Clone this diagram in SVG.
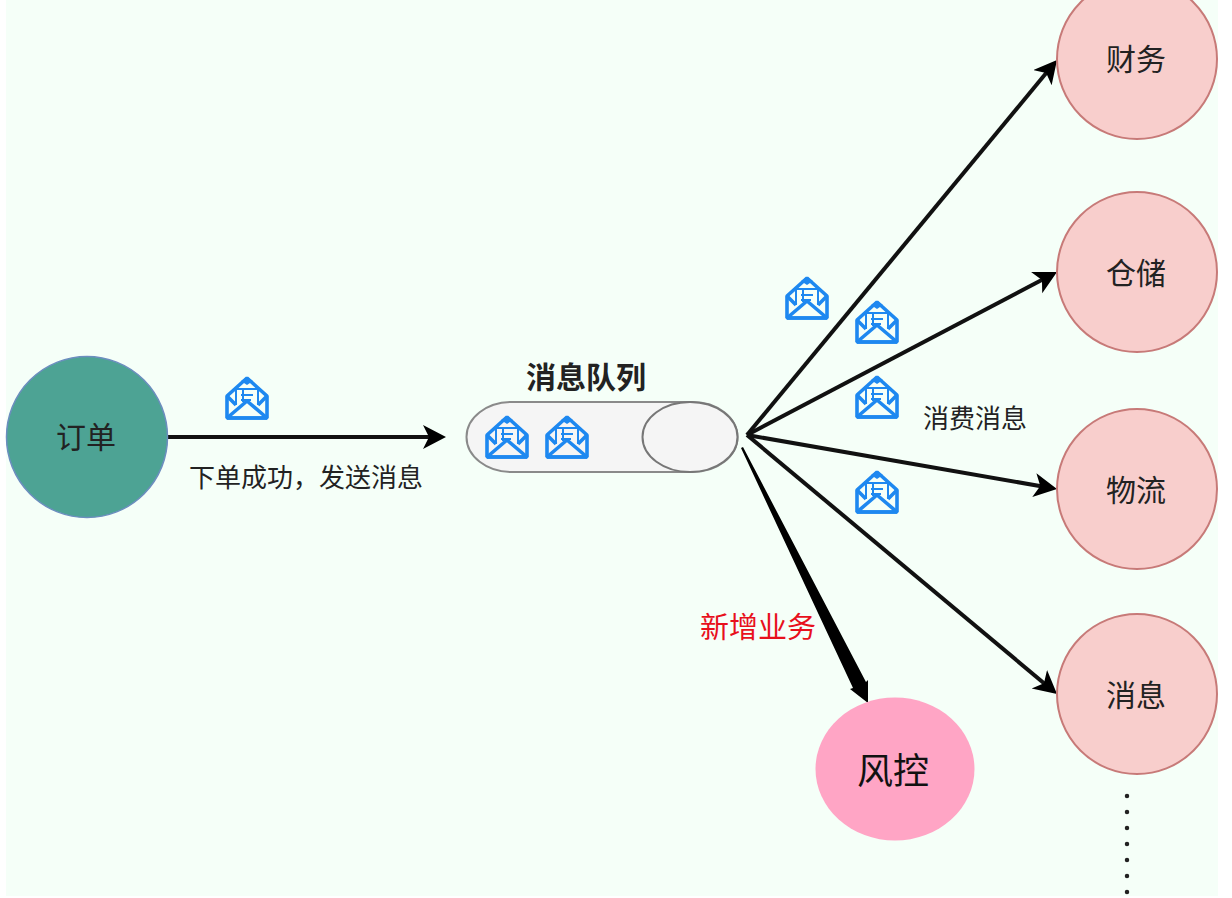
<svg xmlns="http://www.w3.org/2000/svg" width="1232" height="898" viewBox="0 0 1232 898">
<style>
.t{font-family:"Noto Sans CJK SC","Liberation Sans",sans-serif;fill:#222;text-anchor:middle}
.c{stroke:#111;stroke-width:4;fill:none;marker-end:url(#a)}
.r{fill:#f8cecc;stroke:#c77a78;stroke-width:2}
.e{fill:none;stroke:#1e88f0;stroke-width:3.6;stroke-linejoin:bevel}
.d{fill:none;stroke:#1e88f0;stroke-width:2}
</style>
<defs>
<marker id="a" markerUnits="userSpaceOnUse" markerWidth="26" markerHeight="26" refX="17" refY="12" orient="auto">
<path d="M0 0L23 12L0 24L6 12Z" fill="#000"/>
</marker>
<symbol id="m" viewBox="0 0 46 46" width="46" height="46" overflow="visible">
<path class="e" d="M3 21L23 3L43 21V43H3Z"/>
<path fill="#fff" class="e" d="M3 43L23 26L43 43Z"/>
<path class="e" d="M3 21L12 30M43 21L34 30"/>
<path class="d" d="M12 14V30M34 14V30M12 14H34M17 20H29M17 25H27M19 14V27"/>
<path d="M17 6L23 2L29 6L23 10Z" fill="#1e88f0"/>
</symbol>
</defs>
<rect x="6" y="0" width="1212" height="896" fill="#f5fff8"/>
<g id="connectors">
<path class="c" d="M167 437H440"/>
<path class="c" d="M747 435L1053.200 64.600"/>
<path class="c" d="M747 435L1051.700 274.800"/>
<path class="c" d="M747 435L1051.100 488"/>
<path class="c" d="M747 435L1052.400 690.200"/>
<path d="M741 448L743 447L866 682L868 680L868 703L850 689L853 688Z" fill="#000"/>
<path d="M1127 796V896" stroke="#222" stroke-width="4.500" stroke-linecap="round" stroke-dasharray="0 16" fill="none"/>
</g>
<g id="order"><circle cx="87" cy="437" r="80.500" fill="#4da394" stroke="#6c8ebf" stroke-width="1.500"/><text class="t" x="86" y="448" font-size="30">订单</text></g>
<g id="order-label"><text class="t" x="306" y="487" font-size="26">下单成功，发送消息</text></g>
<g id="queue">
<text class="t" x="586" y="388" font-size="30" font-weight="700">消息队列</text>
<rect x="466.500" y="402" width="271" height="70" rx="45" ry="35" fill="#f5f5f5" stroke="#8a8a8a" stroke-width="2"/>
<ellipse cx="690" cy="437" rx="47.500" ry="35" fill="#f5f5f5" stroke="#777" stroke-width="2"/>
</g>
<g id="msg1"><use href="#m" x="224" y="375"/></g>
<g id="msg2"><use href="#m" x="484" y="414"/></g>
<g id="msg3"><use href="#m" x="544" y="414"/></g>
<g id="msg4"><use href="#m" x="784" y="275"/></g>
<g id="msg5"><use href="#m" x="854" y="299"/></g>
<g id="msg6"><use href="#m" x="854" y="374"/></g>
<g id="msg7"><use href="#m" x="854" y="469"/></g>
<g id="consume-label"><text class="t" x="975" y="428" font-size="26">消费消息</text></g>
<g id="new-label"><text class="t" x="758" y="638" font-size="29" style="fill:#e8101c">新增业务</text></g>
<g id="finance"><circle class="r" cx="1137" cy="59" r="80"/><text class="t" x="1136" y="70" font-size="30">财务</text></g>
<g id="warehouse"><circle class="r" cx="1137" cy="272" r="80"/><text class="t" x="1136" y="284" font-size="30">仓储</text></g>
<g id="logistics"><circle class="r" cx="1137" cy="489" r="80"/><text class="t" x="1136" y="501" font-size="30">物流</text></g>
<g id="message"><circle class="r" cx="1137" cy="694" r="80"/><text class="t" x="1136" y="706" font-size="30">消息</text></g>
<g id="risk"><ellipse cx="895" cy="769" rx="79.500" ry="71.500" fill="#ffa5c5"/><text class="t" x="893" y="784" font-size="36" style="fill:#111">风控</text></g>
</svg>
